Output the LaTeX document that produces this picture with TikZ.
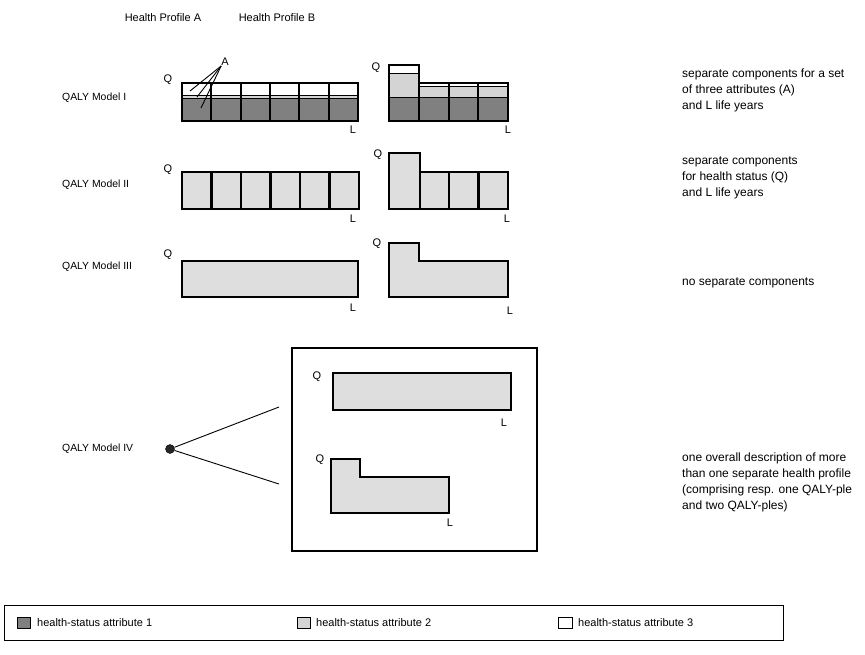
\documentclass[tikz,border=0pt]{standalone}
\usepackage{fontspec}
\setmainfont{Liberation Sans}
\definecolor{attrone}{gray}{0.50}
\definecolor{attrtwo}{gray}{0.83}
\definecolor{attrtwolight}{gray}{0.87}
\tikzset{
  outline/.style={line width=2.5pt, line join=miter},
  divider/.style={line width=2.1pt},
  seam/.style={line width=1pt},
  lbl/.style={font=\fontsize{11}{13}\selectfont, inner sep=0pt},
  rowlbl/.style={font=\fontsize{10.4}{13}\selectfont, inner sep=0pt, anchor=west},
  desc/.style={font=\fontsize{12}{16}\selectfont, inner sep=0pt, align=left, anchor=west},
  swatch/.style={draw, line width=0.9pt},
  pointer/.style={line width=0.9pt},
}
\begin{document}
\begin{tikzpicture}[x=1pt, y=-1pt]
\useasboundingbox (0,0) rectangle (865,654);

% column headers
\node[lbl] (headA) at (163,18) {Health Profile A};
\node[lbl] (headB) at (277,18) {Health Profile B};

% row labels
\node[rowlbl] (m1) at (62,98) {QALY Model I};
\node[rowlbl] (m2) at (62,185) {QALY Model II};
\node[rowlbl] (m3) at (62,267) {QALY Model III};
\node[rowlbl] (m4) at (62,449) {QALY Model IV};

% ---------- Model I, profile A: three attribute rows per year ----------
\fill[attrtwo] (182,95) rectangle (358,98.5);
\fill[attrone] (182,98.5) rectangle (358,121);
\draw[seam] (182,95) -- (358,95);
\draw[seam] (182,98.5) -- (358,98.5);
\foreach \x in {211.3,240.7,270,299.3,328.7}
  \draw[divider] (\x,83) -- (\x,121);
\draw[outline] (182,83) rectangle (358,121);
\node[lbl] (q1a) at (168,80) {Q};
\node[lbl] (l1a) at (353,130) {L};
\node[lbl] (attrA) at (225,62) {A};
\coordinate (pA1) at (190,91);
\coordinate (pA2) at (197,97);
\coordinate (pA3) at (201,108);
\foreach \p in {pA1,pA2,pA3}
  \draw[pointer] (attrA.south west) -- (\p);

% ---------- Model I, profile B ----------
\fill[attrtwo] (389,73) rectangle (419,97);
\fill[attrtwo] (419,86.5) rectangle (508,97);
\fill[attrone] (389,97) rectangle (508,121);
\draw[seam] (389,73) -- (419,73);
\draw[seam] (419,86.5) -- (508,86.5);
\draw[seam] (389,97) -- (508,97);
\draw[divider] (419,65) -- (419,121);
\draw[divider] (448.7,83) -- (448.7,121);
\draw[divider] (478.3,83) -- (478.3,121);
\draw[outline] (389,121) -- (389,65) -- (419,65) -- (419,83) -- (508,83) -- (508,121) -- cycle;
\node[lbl] (q1b) at (376,68) {Q};
\node[lbl] (l1b) at (508,130) {L};

% ---------- Model II, profile A ----------
\fill[attrtwolight] (182,172) rectangle (359,209);
\foreach \x in {211.5,241,270.5,300,329.5}
  \draw[divider] (\x,172) -- (\x,209);
\draw[outline] (182,172) rectangle (359,209);
\node[lbl] (q2a) at (168,170) {Q};
\node[lbl] (l2a) at (353,219) {L};

% ---------- Model II, profile B ----------
\fill[attrtwolight] (389,209) -- (389,153) -- (420,153) -- (420,172) -- (508,172) -- (508,209) -- cycle;
\draw[divider] (420,172) -- (420,209);
\draw[divider] (449,172) -- (449,209);
\draw[divider] (478.5,172) -- (478.5,209);
\draw[outline] (389,209) -- (389,153) -- (420,153) -- (420,172) -- (508,172) -- (508,209) -- cycle;
\node[lbl] (q2b) at (378,155) {Q};
\node[lbl] (l2b) at (507,219) {L};

% ---------- Model III ----------
\draw[outline, fill=attrtwolight] (182,261) rectangle (358,297);
\node[lbl] (q3a) at (168,255) {Q};
\node[lbl] (l3a) at (353,308) {L};
\draw[outline, fill=attrtwolight] (389,297) -- (389,243) -- (419,243) -- (419,261) -- (508,261) -- (508,297) -- cycle;
\node[lbl] (q3b) at (377,244) {Q};
\node[lbl] (l3b) at (510,311) {L};

% ---------- Model IV: one frame holding two profiles ----------
\draw[outline] (292,348) rectangle (537,551);
\draw[outline, fill=attrtwolight] (333,373) rectangle (511,410);
\node[lbl] (q4a) at (317,377) {Q};
\node[lbl] (l4a) at (504,423) {L};
\draw[outline, fill=attrtwolight] (331,513) -- (331,459) -- (360,459) -- (360,477) -- (449,477) -- (449,513) -- cycle;
\node[lbl] (q4b) at (320,460) {Q};
\node[lbl] (l4b) at (450,523) {L};
\node[circle, fill=black!85, draw=black, minimum size=9pt, inner sep=0pt] (hub) at (170,449) {};
\coordinate (rayTop) at (279,407);
\coordinate (rayBot) at (279,484);
\draw[pointer] (hub) -- (rayTop);
\draw[pointer] (hub) -- (rayBot);

% descriptions
\node[desc] (d1) at (682,90) {separate components for a set\\of three attributes (A)\\and L life years};
\node[desc] (d2) at (682,178) {separate components\\for health status (Q)\\and L life years};
\node[desc] (d3) at (682,283) {no separate components};
\node[desc] (d4) at (682,482) {one overall description of more\\than one separate health profile\\(comprising resp. one QALY-ple\\and two QALY-ples)};

% legend
\draw[line width=0.8pt] (4,605) rectangle (783,640);
\draw[swatch, fill=attrone] (17,617) rectangle (30,628);
\node[lbl, anchor=west] (k1) at (37,622.5) {health-status attribute 1};
\draw[swatch, fill=attrtwo] (297,617) rectangle (310,628);
\node[lbl, anchor=west] (k2) at (316,622.5) {health-status attribute 2};
\draw[swatch, fill=white] (558,617) rectangle (572,628);
\node[lbl, anchor=west] (k3) at (578,622.5) {health-status attribute 3};
\end{tikzpicture}
\end{document}
